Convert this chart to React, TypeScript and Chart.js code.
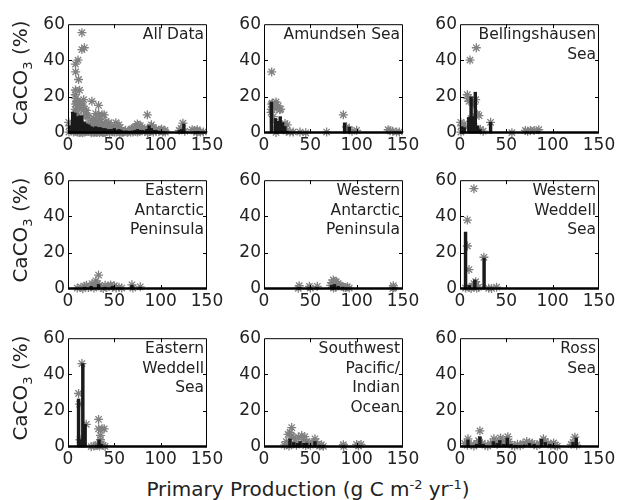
import React, { useEffect, useRef } from "react";
import { Chart, registerables } from "chart.js";

Chart.register(...registerables);

// ---------- Data ----------
const xTicks = [0, 50, 100, 150];
const yTicks = [0, 20, 40, 60];

const amundsenX = [8.3, 7.6, 7.8, 8.3, 9, 13, 12, 15.4, 14, 18, 17, 10, 11, 12, 13, 16, 19, 22.7, 25, 21, 24, 28, 31.6, 38.8, 45, 67.6, 85.6, 89, 92, 95, 100, 134, 136, 139, 146, 143];
const amundsenY = [33.7, 11.4, 13, 15.9, 16.5, 17.1, 15, 15, 13.5, 13.2, 12.8, 9, 6, 3, 0.3, 2, 4, 5.2, 4.5, 2, 1, 0.5, 0.6, 0.5, 0.1, 0.5, 10, 3.4, 2, 1, 1.5, 1.8, 1.2, 1, 0.6, 0.5];
const amundsenBarX = [8, 12.5, 15, 17.5, 20, 22.5, 25, 87, 92];
const amundsenBarY = [17, 8, 6.5, 9, 5.8, 3.6, 1, 5.6, 3.3];

const bellingX = [17.6, 10.8, 7.9, 9.7, 8.5, 16.9, 15, 18.7, 20.5, 0.8, 2, 4.4, 3, 6, 12, 14, 22, 25, 33, 56, 70.6, 76, 80, 85, 73, 1];
const bellingY = [47, 40.2, 21.1, 17.5, 19, 18.4, 16, 10.4, 9.6, 5.9, 4, 5, 2.5, 3, 8, 5, 2, 1, 5.9, 0.2, 1.4, 1.4, 1.4, 1.8, 1, 0.5];
const bellingBarX = [2, 4.5, 9.5, 12, 14.5, 16.5, 19, 21.5, 33, 72, 78, 84];
const bellingBarY = [3.5, 3, 8.6, 20, 9, 22.5, 4, 2, 5.9, 0.6, 0.6, 0.8];

const eapX = [33, 26, 30, 32, 10, 14, 18, 20, 22, 24, 28, 30, 34, 36, 38, 40, 42, 44, 46, 48, 50, 52, 55, 58, 69, 70, 78, 16];
const eapY = [7.7, 3, 4.5, 3, 0.5, 1, 1.5, 2, 0.8, 1.2, 0.5, 1.5, 2, 1, 0.3, 2, 1, 1.5, 2.2, 1, 1.8, 0.6, 1, 0.5, 2.3, 0.5, 1.2, 0.2];
const eapBarX = [18, 25, 33, 40, 48, 55, 69, 78];
const eapBarY = [1, 1.5, 2.5, 1, 1.5, 0.7, 2, 1];

const wapX = [38, 37, 49, 50, 57.5, 72, 73, 74.8, 76, 78, 80, 82, 84, 86, 88, 90, 92, 77, 75, 139.5, 140, 139];
const wapY = [1.8, 0.4, 1.5, 0.5, 1.5, 2, 3.5, 5, 4.2, 4, 3, 2, 1.5, 1, 0.8, 1.2, 0.5, 1, 0.5, 1.8, 0.8, 0.3];
const wapBarX = [38, 49, 57, 73, 76, 80, 85, 90, 140];
const wapBarY = [0.8, 0.8, 0.8, 2, 2.5, 1.5, 1, 0.6, 0.8];

const wwsX = [15, 8, 8, 9.7, 25.8, 16.9, 15, 14, 17, 18, 12, 10, 20, 31, 34, 39.5, 6];
const wwsY = [55.3, 38, 23.7, 10.7, 17.5, 4, 3, 1.5, 2, 0.5, 0.3, 1, 1, 0.4, 0.3, 1, 0.5];
const wwsBarX = [6, 10, 16, 26];
const wwsBarY = [31.4, 2, 5, 17];

const ewsX = [11.4, 12.5, 15, 19.7, 33, 33, 36.7, 39, 35, 35, 28, 30, 32, 34, 36, 38, 40, 25, 13];
const ewsY = [29.5, 23.6, 46, 12.5, 15.2, 10, 10, 10, 6.4, 4, 0.5, 0.8, 1, 0.5, 1.5, 0.8, 0.3, 0.2, 4];
const ewsBarX = [11.4, 14, 16, 18.5, 31, 33.5, 36];
const ewsBarY = [26.5, 4, 46, 12.5, 1, 4, 1.5];

const swpX = [29.9, 28, 26, 30, 32, 24, 22, 25, 27, 34, 37, 40.7, 44, 42, 46, 48, 50, 52, 55, 56, 58, 60, 62, 64, 85.6, 86, 100, 102, 104.6, 35, 45];
const swpY = [10.7, 8, 7, 6, 5, 3, 1, 1.5, 0.5, 3, 5.5, 6.3, 5.7, 4, 3, 2, 1, 2.5, 4.5, 3, 1.5, 0.5, 1.2, 0.4, 1.3, 0.3, 1.4, 0.5, 1.4, 1, 0.8];
const swpBarX = [28, 32, 36, 39, 43, 46, 50, 55, 60, 64, 86, 102];
const swpBarY = [4.5, 2.5, 2, 3, 2, 2.2, 1, 3, 1, 0.8, 0.6, 0.8];

const rossX = [21.5, 8.6, 5, 8, 12, 15, 18, 20, 24, 27, 30, 33, 36.6, 38, 40, 43.7, 46, 49, 51.6, 53, 56, 59, 62, 65, 68, 72, 75, 78, 80, 83, 86, 90, 92, 95, 98, 101, 103, 105, 120, 122, 124, 126];
const rossY = [8.9, 4.5, 2, 1, 1.5, 0.5, 2, 3.5, 2, 1, 0.5, 2, 4.5, 3, 1.5, 5, 3.5, 2, 5.7, 3, 1, 0.5, 1.5, 0.7, 2, 3, 2.5, 2, 1.2, 0.8, 2, 4.5, 3, 2, 1, 2.2, 1, 0.5, 1.5, 2.5, 5.4, 1];
const rossBarX = [8.6, 18, 21.5, 25, 36, 40, 43, 47, 51, 55, 60, 65, 70, 75, 80, 88, 92, 97, 101, 122, 125.5];
const rossBarY = [3.9, 1.5, 5.7, 1.5, 3, 2, 3.6, 1.5, 5, 1.5, 1, 0.8, 1.2, 2, 1.5, 4.3, 2.5, 1.5, 1, 2.5, 5];

// "All Data" scatter is the union of the regional points
const allX = [...amundsenX, ...bellingX, ...eapX, ...wapX, ...wwsX, ...ewsX, ...swpX, ...rossX];
const allY = [...amundsenY, ...bellingY, ...eapY, ...wapY, ...wwsY, ...ewsY, ...swpY, ...rossY];
const allBarX = [2.5, 5, 7.5, 10, 12.5, 15, 17.5, 20, 22.5, 25, 27.5, 30, 32.5, 35, 37.5, 40, 42.5, 45, 47.5, 50, 52.5, 55, 57.5, 60, 62.5, 65, 67.5, 70, 72.5, 75, 77.5, 80, 82.5, 85, 87.5, 90, 92.5, 95, 97.5, 100, 102.5, 105, 120, 122.5, 125, 137.5, 140];
const allBarY = [4, 11.5, 11, 9, 9.5, 9.5, 6, 5, 4.5, 3.5, 3, 3.5, 3, 3, 2.5, 2.5, 2, 2, 2, 2.5, 1.5, 2, 1.5, 1, 1.2, 1, 1, 1.2, 1.5, 2, 1.5, 1.5, 1.2, 2, 4, 2.5, 1.5, 1.5, 1, 1, 0.8, 0.5, 1.5, 2, 5, 0.6, 0.8];

const panelTitles = [
  ["All Data"],
  ["Amundsen Sea"],
  ["Bellingshausen", "Sea"],
  ["Eastern", "Antarctic", "Peninsula"],
  ["Western", "Antarctic", "Peninsula"],
  ["Western", "Weddell", "Sea"],
  ["Eastern", "Weddell", "Sea"],
  ["Southwest", "Pacific/", "Indian", "Ocean"],
  ["Ross", "Sea"],
];
const panelPoints = [
  [allX, allY], [amundsenX, amundsenY], [bellingX, bellingY],
  [eapX, eapY], [wapX, wapY], [wwsX, wwsY],
  [ewsX, ewsY], [swpX, swpY], [rossX, rossY],
];
const panelBars = [
  [allBarX, allBarY], [amundsenBarX, amundsenBarY], [bellingBarX, bellingBarY],
  [eapBarX, eapBarY], [wapBarX, wapBarY], [wwsBarX, wwsBarY],
  [ewsBarX, ewsBarY], [swpBarX, swpBarY], [rossBarX, rossBarY],
];

const yLabelText = "CaCO";
const xLabelText = "Primary Production (g C m";

// ---------- Layout ----------
const COL_LEFT = [68, 264, 460];
const ROW_TOP = [21, 177, 335];
const PLOT_W = 139;
const PLOT_H = 112;
const PAD_L = 40;
const PAD_T = 10;
const PAD_R = 24;
const PAD_B = 26;
const FONT = '"DejaVu Sans", sans-serif';

function framePlugin(title: string[]) {
  return {
    id: "frame",
    afterDraw(chart: any) {
      const { ctx, chartArea } = chart;
      const { left, top, right, bottom } = chartArea;
      const xs = chart.scales.x;
      const ys = chart.scales.y;
      ctx.save();
      ctx.strokeStyle = "#000";
      ctx.lineWidth = 1;
      ctx.beginPath();
      ctx.moveTo(left + 0.5, bottom);
      ctx.lineTo(left + 0.5, top + 0.5);
      ctx.lineTo(right - 0.5, top + 0.5);
      ctx.lineTo(right - 0.5, bottom);
      ctx.stroke();
      // inner ticks
      ctx.beginPath();
      [50, 100].forEach((v) => {
        const px = Math.round(xs.getPixelForValue(v)) + 0.5;
        ctx.moveTo(px, top);
        ctx.lineTo(px, top + 4);
        ctx.moveTo(px, bottom);
        ctx.lineTo(px, bottom - 4);
      });
      [20, 40].forEach((v) => {
        const py = Math.round(ys.getPixelForValue(v)) + 0.5;
        ctx.moveTo(left, py);
        ctx.lineTo(left + 4, py);
        ctx.moveTo(right, py);
        ctx.lineTo(right - 4, py);
      });
      ctx.stroke();
      // thick bottom line
      ctx.lineWidth = 2.5;
      ctx.beginPath();
      ctx.moveTo(left, bottom - 0.5);
      ctx.lineTo(right, bottom - 0.5);
      ctx.stroke();
      // title
      ctx.fillStyle = "#222";
      ctx.font = `15.5px ${FONT}`;
      ctx.textAlign = "right";
      ctx.textBaseline = "middle";
      title.forEach((line, i) => {
        ctx.fillText(line, right - 3, top + 11 + i * 19.5);
      });
      ctx.restore();
    },
  };
}

function Panel({ idx }: { idx: number }) {
  const ref = useRef<HTMLCanvasElement>(null);
  const r = Math.floor(idx / 3);
  const c = idx % 3;
  const W = PAD_L + PLOT_W + PAD_R;
  const H = PAD_T + PLOT_H + PAD_B;
  useEffect(() => {
    if (!ref.current) return;
    const [px, py] = panelPoints[idx];
    const [bx, by] = panelBars[idx];
    const tickFont = { family: FONT, size: 17 };
    const chart = new Chart(ref.current, {
      type: "scatter",
      data: {
        datasets: [
          {
            type: "bar",
            data: bx.map((x, i) => ({ x, y: by[i] })),
            backgroundColor: "#1a1a1a",
            borderWidth: 0,
            barThickness: idx === 0 ? 2.6 : 2.8,
            order: 0,
            clip: false,
          } as any,
          {
            type: "scatter",
            data: px.map((x, i) => ({ x, y: py[i] })),
            pointStyle: "star",
            radius: 4.5,
            borderColor: "#808080",
            backgroundColor: "#808080",
            borderWidth: 1.3,
            order: 1,
            clip: false,
          } as any,
        ],
      },
      options: {
        responsive: false,
        maintainAspectRatio: false,
        animation: false,
        devicePixelRatio: 1,
        events: [],
        layout: {
          autoPadding: false,
          padding: { left: 0, top: PAD_T, right: PAD_R, bottom: 0 },
        },
        plugins: { legend: { display: false }, tooltip: { enabled: false } },
        scales: {
          x: {
            type: "linear",
            min: xTicks[0],
            max: xTicks[xTicks.length - 1],
            offset: false,
            grid: { display: false, drawTicks: false },
            border: { display: false },
            afterBuildTicks: (s: any) => {
              s.ticks = xTicks.map((v) => ({ value: v }));
            },
            ticks: {
              color: "#222",
              font: tickFont,
              padding: 2,
              maxRotation: 0,
              autoSkip: false,
            },
            afterFit: (s: any) => {
              s.height = PAD_B;
            },
          },
          y: {
            type: "linear",
            min: yTicks[0],
            max: yTicks[yTicks.length - 1],
            grid: { display: false, drawTicks: false },
            border: { display: false },
            afterBuildTicks: (s: any) => {
              s.ticks = yTicks.map((v) => ({ value: v }));
            },
            ticks: { color: "#222", font: tickFont, padding: 3 },
            afterFit: (s: any) => {
              s.width = PAD_L;
            },
          },
        },
      } as any,
      plugins: [framePlugin(panelTitles[idx])],
    });
    return () => chart.destroy();
  }, [idx]);
  return (
    <canvas
      ref={ref}
      width={W}
      height={H}
      style={{
        position: "absolute",
        left: COL_LEFT[c] - PAD_L,
        top: ROW_TOP[r] - PAD_T,
        width: W,
        height: H,
      }}
    />
  );
}

const Y_LABEL_CENTERS = [73, 230, 388];

export default function App() {
  return (
    <div
      style={{
        position: "absolute",
        left: 0,
        top: 0,
        width: 625,
        height: 500,
        background: "#fff",
        overflow: "hidden",
        fontFamily: FONT,
        color: "#222",
      }}
    >
      {Array.from({ length: 9 }, (_, i) => (
        <Panel key={i} idx={i} />
      ))}
      {Y_LABEL_CENTERS.map((cy, i) => (
        <div
          key={i}
          style={{
            position: "absolute",
            left: 21,
            top: cy,
            transform: "translate(-50%, -50%) rotate(-90deg)",
            whiteSpace: "nowrap",
            fontSize: 20,
            lineHeight: "20px",
          }}
        >
          {yLabelText}
          <span style={{ fontSize: 13, position: "relative", top: 5 }}>3</span> (%)
        </div>
      ))}
      <div
        style={{
          position: "absolute",
          left: 308,
          top: 490,
          transform: "translate(-50%, -50%)",
          whiteSpace: "nowrap",
          fontSize: 20,
          lineHeight: "20px",
        }}
      >
        {xLabelText}
        <span style={{ fontSize: 13, position: "relative", top: -7 }}>-2</span> yr
        <span style={{ fontSize: 13, position: "relative", top: -7 }}>-1</span>)
      </div>
    </div>
  );
}
